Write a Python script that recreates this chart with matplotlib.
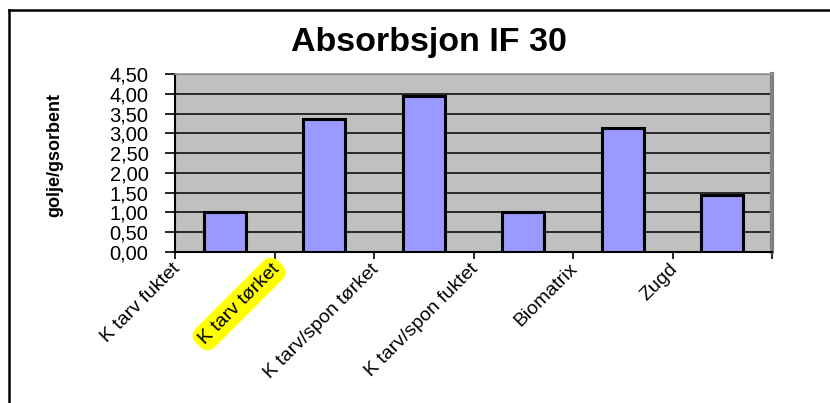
import matplotlib
matplotlib.use("Agg")
import matplotlib.pyplot as plt
from matplotlib.lines import Line2D
from matplotlib.ticker import MultipleLocator, FuncFormatter
import numpy as np

plt.rcParams['font.family'] = ['Liberation Sans', 'DejaVu Sans']

categories = ["K tarv fuktet", "K tarv tørket", "K tarv/spon tørket",
              "K tarv/spon fuktet", "Biomatrix", "Zugd"]
values = [1.00, 3.35, 3.94, 1.02, 3.14, 1.45]
highlighted = "K tarv tørket"

fig = plt.figure(figsize=(8.30, 4.03), dpi=100)
ax = fig.add_axes([175 / 830, 151 / 403, 597 / 830, 178 / 403])

x = np.arange(len(categories))
ax.bar(x, values, width=0.42, color="#9999FF", edgecolor="black",
       linewidth=2.2, zorder=3)

ax.set_facecolor("#C0C0C0")
ax.set_xlim(-0.5, len(categories) - 0.5)
ax.set_ylim(0, 4.5)
ax.yaxis.set_major_locator(MultipleLocator(0.5))
ax.yaxis.set_major_formatter(FuncFormatter(lambda v, p: f"{v:.2f}".replace(".", ",")))
ax.yaxis.grid(True, color="black", linewidth=1.1, zorder=1)
ax.set_axisbelow(True)

# ticks between categories, labels hang from the tick marks
ax.set_xticks(np.arange(len(categories) + 1) - 0.5)
ax.set_xticklabels([])
ax.tick_params(axis="x", direction="out", length=5, width=1.2, color="black")
ax.tick_params(axis="y", direction="out", length=7, width=1.2, color="black",
               pad=12, labelsize=14.5)

for spine in ["left", "bottom"]:
    ax.spines[spine].set_color("black")
    ax.spines[spine].set_linewidth(1.5)
ax.spines["top"].set_color("#9A9A9A")
ax.spines["top"].set_linewidth(1.2)
ax.spines["right"].set_color("#808080")
ax.spines["right"].set_linewidth(3)

for i, lab in enumerate(categories):
    box = None
    if lab == highlighted:
        box = dict(boxstyle="round,pad=0.25,rounding_size=0.6", fc="#FFFF00", ec="none")
    ax.annotate(lab, xy=(i - 0.5, 0), xycoords=("data", "axes fraction"),
                xytext=(6, -6), textcoords="offset points",
                rotation=45, ha="right", va="top", fontsize=14,
                bbox=box, annotation_clip=False)

fig.text(429 / 830, 1 - 43 / 403, "Absorbsjon IF 30", fontsize=24.5,
         fontweight="bold", ha="center", va="center")
fig.text(55 / 830, 1 - 155 / 403, "golje/gsorbent", rotation=90,
         fontsize=13, fontweight="bold", ha="center", va="center")

# outer chart frame (only top and left edge visible)
fig.add_artist(Line2D([9 / 830, 1], [1 - 10 / 403, 1 - 10 / 403],
                      transform=fig.transFigure, color="black", linewidth=1.8))
fig.add_artist(Line2D([9 / 830, 9 / 830], [0, 1 - 10 / 403],
                      transform=fig.transFigure, color="black", linewidth=1.8))

fig.savefig("out.png", dpi=100)
